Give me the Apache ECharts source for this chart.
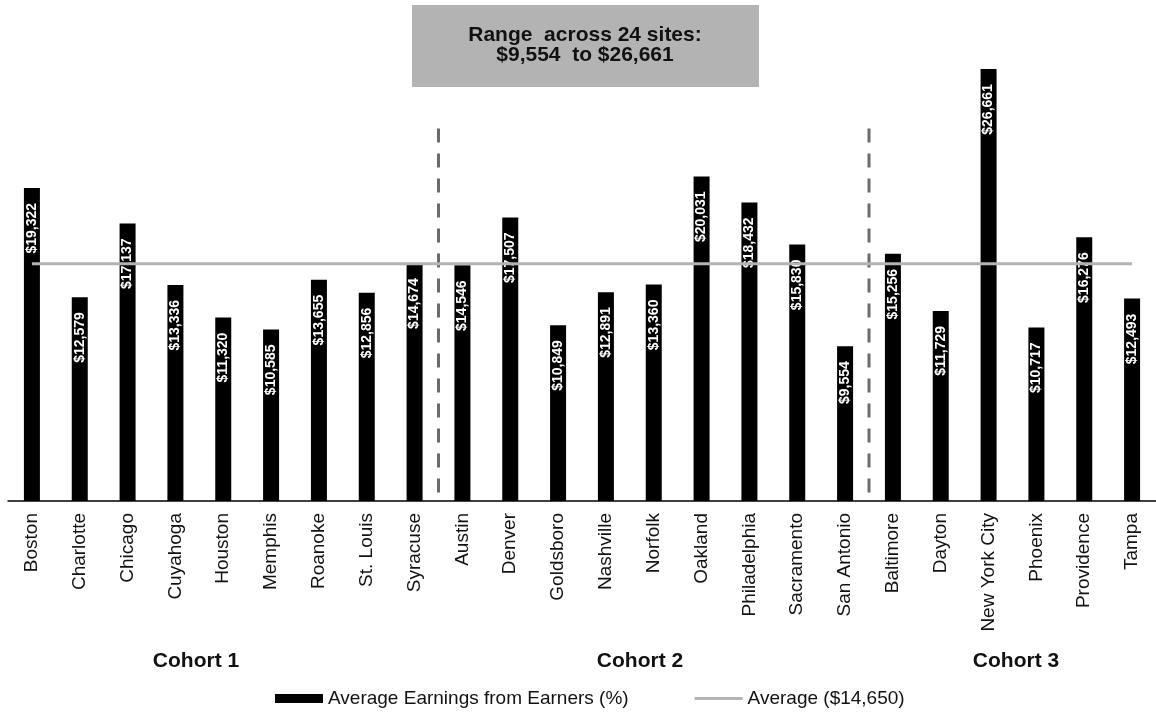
<!DOCTYPE html>
<html>
<head>
<meta charset="utf-8">
<title>Average earnings by site</title>
<script src="https://cdn.jsdelivr.net/npm/echarts@6/dist/echarts.min.js"></script>
<style>
  html, body { margin: 0; padding: 0; background: #fff; }
  #main { width: 1156px; height: 717px; }
</style>
</head>
<body>
<div id="main"></div>
<script>
// sites in cohort order
const sites = ['Boston', 'Charlotte', 'Chicago', 'Cuyahoga', 'Houston', 'Memphis', 'Roanoke', 'St. Louis', 'Syracuse',
  'Austin', 'Denver', 'Goldsboro', 'Nashville', 'Norfolk', 'Oakland', 'Philadelphia', 'Sacramento', 'San Antonio',
  'Baltimore', 'Dayton', 'New York City', 'Phoenix', 'Providence', 'Tampa'];
const earnings = [19322, 12579, 17137, 13336, 11320, 10585, 13655, 12856, 14674,
  14546, 17507, 10849, 12891, 13360, 20031, 18432, 15830, 9554,
  15256, 11729, 26661, 10717, 16276, 12493];
const average = 14650;
const cohorts = ['Cohort 1', 'Cohort 2', 'Cohort 3'];
const cohortX = [196, 640, 1016];
const dividerAt = [8.5, 17.5];   // between Syracuse/Austin and San Antonio/Baltimore
const dividerTop = 23000;
const titleLines = ['Range  across 24 sites:', '$9,554  to $26,661'];

const font = '"Liberation Sans", Arial, sans-serif';
const money = v => '$' + v.toLocaleString('en-US');

const chart = echarts.init(document.getElementById('main'));

// dashed separators, drawn top-down so the dash pattern starts at the top
const dividerSeries = dividerAt.map((x, i) => ({
  name: 'divider' + i,
  type: 'line',
  xAxisIndex: 1,
  yAxisIndex: 0,
  data: [[x, dividerTop], [x, 0]],
  symbol: 'none',
  silent: true,
  z: 1,
  lineStyle: { color: '#6b6b6b', width: 3, type: [14, 11] }
}));

chart.setOption({
  animation: false,
  textStyle: { fontFamily: font },
  grid: { left: 8, right: -8, top: 15, bottom: 216 },
  xAxis: [{
    type: 'category',
    data: sites,
    axisLine: { lineStyle: { color: '#000', width: 1.5 } },
    axisTick: { show: false },
    axisLabel: { interval: 0, rotate: 90, margin: 12, fontSize: 19, color: '#111', fontFamily: font }
  }, {
    type: 'value',
    min: -0.5,
    max: 23.5,
    show: false
  }],
  yAxis: { type: 'value', min: 0, max: 30000, show: false },
  legend: {
    data: [
      { name: 'Average Earnings from Earners (%)', icon: 'rect' },
      { name: 'Average ($14,650)', icon: 'path://M0,0 L48,0 L48,3 L0,3 Z' }
    ],
    left: 270,
    top: 684,
    itemWidth: 48,
    itemHeight: 9,
    itemGap: 66,
    textStyle: { fontSize: 19, color: '#111', fontFamily: font }
  },
  graphic: [
    {
      type: 'rect',
      left: 412, top: 5,
      shape: { width: 347, height: 82 },
      style: { fill: '#b3b3b3' }
    },
    {
      type: 'text',
      x: 585, y: 25,
      style: {
        text: titleLines.join('\n'),
        font: 'bold 21px ' + font,
        fill: '#111',
        align: 'center',
        verticalAlign: 'top',
        lineHeight: 20
      }
    }
  ].concat(cohorts.map((c, i) => ({
    type: 'text',
    x: cohortX[i], y: 661,
    style: {
      text: c,
      font: 'bold 21px ' + font,
      fill: '#111',
      align: 'center',
      verticalAlign: 'middle'
    }
  }))),
  series: [{
    name: 'Average Earnings from Earners (%)',
    type: 'bar',
    data: earnings,
    barWidth: 16,
    itemStyle: { color: '#000' },
    z: 2,
    label: {
      show: true,
      position: 'insideTop',
      distance: 15,
      rotate: 90,
      align: 'right',
      verticalAlign: 'middle',
      color: '#fff',
      fontWeight: 'bold',
      fontSize: 14,
      fontFamily: font,
      formatter: p => money(p.value)
    }
  }, {
    name: 'Average ($14,650)',
    type: 'line',
    data: earnings.map(() => average),
    symbol: 'none',
    z: 3,
    itemStyle: { color: '#b3b3b3' },
    lineStyle: { color: '#b3b3b3', width: 3 }
  }].concat(dividerSeries)
});
</script>
</body>
</html>
